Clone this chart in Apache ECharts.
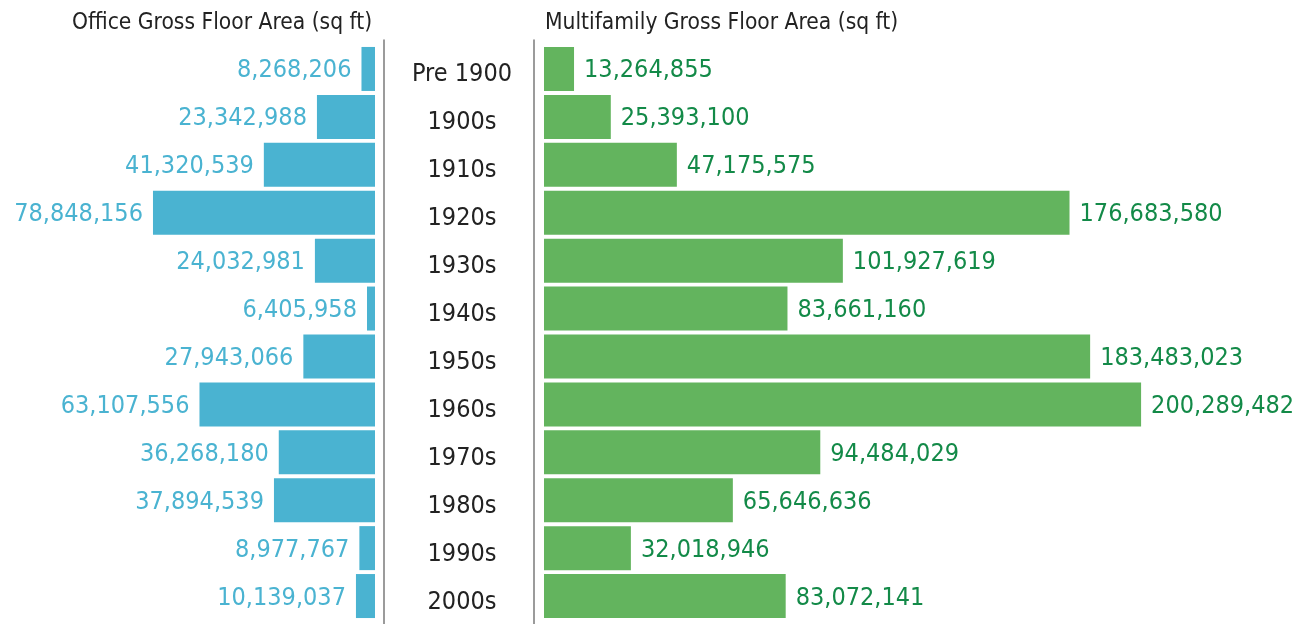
<!DOCTYPE html>
<html>
<head>
<meta charset="utf-8">
<script src="https://cdn.jsdelivr.net/npm/echarts@6/dist/echarts.min.js"></script>
<style>
  html, body { margin: 0; padding: 0; background: #fff; }
  #chart { width: 1311px; height: 624px; }
</style>
</head>
<body>
<div id="chart"></div>
<script>
// 数据
const decades = ['Pre 1900', '1900s', '1910s', '1920s', '1930s', '1940s', '1950s', '1960s', '1970s', '1980s', '1990s', '2000s']
const officeArea = [8268206, 23342988, 41320539, 78848156, 24032981, 6405958, 27943066, 63107556, 36268180, 37894539, 8977767, 10139037]
const multifamilyArea = [13264855, 25393100, 47175575, 176683580, 101927619, 83661160, 183483023, 200289482, 94484029, 65646636, 32018946, 83072141]

const font = "'DejaVu Sans Condensed', sans-serif"
const fmt = (p) => p.value.toLocaleString('en-US')

const myChart = echarts.init(document.getElementById('chart'))
myChart.setOption({
  animation: false,
  textStyle: {fontFamily: font},
  title: [
    {
      text: 'Office Gross Floor Area (sq ft)',
      left: 72, top: 12, padding: 0,
      textStyle: {fontFamily: font, fontSize: 22.6, fontWeight: 'normal', color: '#222'}
    },
    {
      text: 'Multifamily Gross Floor Area (sq ft)',
      left: 545, top: 12, padding: 0,
      textStyle: {fontFamily: font, fontSize: 22.6, fontWeight: 'normal', color: '#222'}
    }
  ],
  grid: [
    {left: 31, right: 936, top: 45, bottom: 4},
    {left: 544, right: 11, top: 45, bottom: 4},
    // 中间分隔线
    {left: 384, right: 777, top: 40, bottom: 0}
  ],
  xAxis: [
    {gridIndex: 0, type: 'value', inverse: true, min: 3.69e6, max: 120.14e6, show: false},
    {gridIndex: 1, type: 'value', min: 3.36e6, max: 252.7e6, show: false},
    {gridIndex: 2, type: 'value', min: 0, max: 1, show: false}
  ],
  yAxis: [
    {
      gridIndex: 0, type: 'category', data: decades, inverse: true, position: 'right',
      axisLine: {show: false}, axisTick: {show: false},
      axisLabel: {margin: 87, align: 'center', verticalAlign: 'top', lineHeight: 12, fontFamily: font, fontSize: 25, color: '#222'}
    },
    {
      gridIndex: 1, type: 'category', data: decades, inverse: true, show: false
    },
    {
      gridIndex: 2, type: 'value', min: 0, max: 1, position: 'left',
      axisLine: {show: true, lineStyle: {color: '#7a7a7a', width: 1.5}},
      axisTick: {show: false}, axisLabel: {show: false}, splitLine: {show: false}
    },
    {
      gridIndex: 2, type: 'value', min: 0, max: 1, position: 'right',
      axisLine: {show: true, lineStyle: {color: '#7a7a7a', width: 1.5}},
      axisTick: {show: false}, axisLabel: {show: false}, splitLine: {show: false}
    }
  ],
  series: [
    {
      name: 'Office',
      type: 'bar',
      xAxisIndex: 0, yAxisIndex: 0,
      data: officeArea,
      barWidth: 44,
      itemStyle: {color: '#4ab3d1'},
      label: {
        show: true, position: 'left', distance: 10, offset: [0, 2],
        fontFamily: font, fontSize: 25, color: '#4ab3d1',
        formatter: fmt
      }
    },
    {
      name: 'Multifamily',
      type: 'bar',
      xAxisIndex: 1, yAxisIndex: 1,
      data: multifamilyArea,
      barWidth: 44,
      itemStyle: {color: '#63b45e'},
      label: {
        show: true, position: 'right', distance: 10, offset: [0, 2],
        fontFamily: font, fontSize: 25, color: '#138a48',
        formatter: fmt
      }
    }
  ]
})
</script>
</body>
</html>
